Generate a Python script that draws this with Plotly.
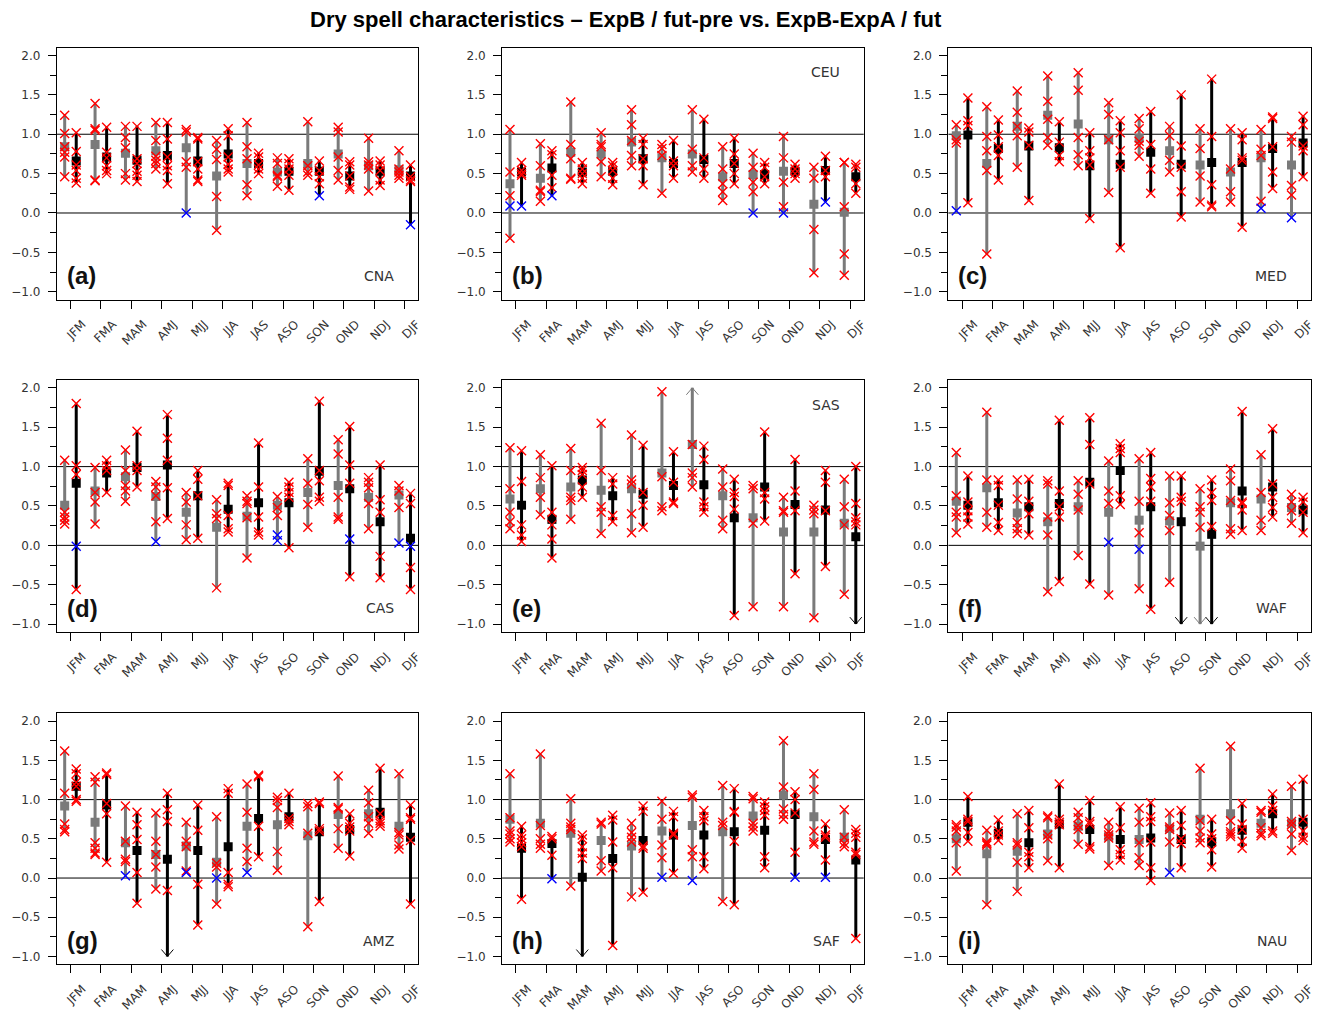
import plotly.graph_objects as go

MONTHS = ["JFM", "FMA", "MAM", "AMJ", "MJJ", "JJA", "JAS", "ASO", "SON", "OND", "NDJ", "DJF"]

# ---------------- (a) CNA ----------------
CNA_pre_mean = [0.84, 0.87, 0.76, 0.79, 0.83, 0.47, 0.63, 0.52, 0.63, 0.75, 0.60, 0.55]
CNA_pre_members = [[1.24, 1.01, 0.84, 0.77, 0.71, 0.46], [1.39, 1.07, 1.05, 0.42, 0.41],
                   [1.10, 0.96, 0.83, 0.50, 0.42], [1.15, 0.92, 0.72, 0.67, 0.63, 0.56],
                   [1.06, 1.03, 0.65, 0.58], [0.92, 0.81, 0.68, 0.21, -0.22],
                   [1.15, 0.84, 0.69, 0.36, 0.22], [0.70, 0.63, 0.48, 0.46, 0.34],
                   [1.16, 0.60, 0.52, 0.48], [1.09, 1.03, 0.71, 0.54, 0.42],
                   [0.95, 0.65, 0.61, 0.56, 0.28], [0.79, 0.56, 0.52, 0.48, 0.44]]
CNA_pre_blue = [[], [], [], [], [0.0], [], [], [], [], [], [], []]
CNA_diff_mean = [0.66, 0.71, 0.67, 0.73, 0.66, 0.75, 0.63, 0.53, 0.53, 0.47, 0.53, 0.47]
CNA_diff_members = [[1.02, 0.78, 0.61, 0.54, 0.44, 0.38], [1.09, 0.77, 0.70, 0.60, 0.54, 0.50],
                    [1.10, 0.69, 0.63, 0.53, 0.48, 0.40], [1.15, 0.94, 0.71, 0.60, 0.54, 0.37],
                    [0.96, 0.94, 0.65, 0.56, 0.42, 0.40], [1.07, 0.98, 0.71, 0.62, 0.56, 0.52],
                    [0.76, 0.71, 0.61, 0.56, 0.50], [0.69, 0.63, 0.56, 0.48, 0.29],
                    [0.66, 0.54, 0.46, 0.37], [0.65, 0.61, 0.47, 0.33, 0.30],
                    [0.66, 0.61, 0.54, 0.42, 0.35], [0.61, 0.46, 0.42, 0.40]]
CNA_diff_blue = [[], [], [], [], [], [], [], [], [0.22], [], [], [-0.15]]

# ---------------- (b) CEU ----------------
CEU_pre_mean = [0.37, 0.44, 0.77, 0.75, 0.90, 0.70, 0.75, 0.46, 0.49, 0.53, 0.11, 0.01]
CEU_pre_members = [[1.06, 0.52, 0.22, -0.32], [0.88, 0.60, 0.29, 0.27, 0.15],
                   [1.41, 0.87, 0.69, 0.44, 0.43], [1.02, 0.87, 0.84, 0.65, 0.46],
                   [1.31, 1.12, 0.92, 0.73, 0.60], [0.87, 0.82, 0.73, 0.25],
                   [1.31, 0.81, 0.60, 0.52], [0.84, 0.56, 0.37, 0.27, 0.16],
                   [0.76, 0.58, 0.39, 0.27], [0.97, 0.70, 0.39, 0.08],
                   [0.58, 0.44, -0.21, -0.76], [0.64, 0.64, 0.08, -0.52, -0.79]]
CEU_pre_blue = [[0.09], [], [], [], [], [], [], [], [0.0], [0.0], [], []]
CEU_diff_mean = [0.52, 0.57, 0.52, 0.53, 0.69, 0.63, 0.68, 0.63, 0.49, 0.53, 0.54, 0.46]
CEU_diff_members = [[0.64, 0.54, 0.50, 0.48], [0.79, 0.74, 0.48, 0.32],
                    [0.64, 0.56, 0.50, 0.44, 0.37], [0.64, 0.60, 0.54, 0.44, 0.36],
                    [0.95, 0.87, 0.69, 0.60, 0.36], [0.92, 0.66, 0.60, 0.44],
                    [1.19, 0.70, 0.56, 0.44], [0.95, 0.75, 0.63, 0.50, 0.37],
                    [0.64, 0.58, 0.46, 0.37], [0.62, 0.56, 0.50, 0.44],
                    [0.72, 0.54, 0.46], [0.62, 0.58, 0.37, 0.25]]
CEU_diff_blue = [[0.09], [0.22], [], [], [], [], [], [], [], [], [0.14], []]

# ---------------- (c) MED ----------------
MED_pre_mean = [0.98, 0.63, 1.10, 1.24, 1.13, 0.93, 0.95, 0.79, 0.61, 0.52, 0.70, 0.61]
MED_pre_members = [[1.12, 0.93, 0.89], [1.35, 0.97, 0.79, 0.54, -0.52],
                   [1.55, 1.28, 1.10, 0.98, 0.58], [1.74, 1.42, 1.19, 0.96, 0.86],
                   [1.78, 1.56, 0.96, 0.74, 0.60], [1.40, 1.25, 0.93, 0.26],
                   [1.20, 1.07, 0.91, 0.86, 0.72], [1.10, 0.98, 0.67, 0.52],
                   [1.07, 0.82, 0.47, 0.14], [1.07, 0.56, 0.27, 0.14],
                   [1.06, 0.81, 0.73, 0.15], [0.97, 0.90, 0.35, 0.23]]
MED_pre_blue = [[0.03], [], [], [], [], [], [], [], [], [], [0.06], [-0.06]]
MED_diff_mean = [0.99, 0.82, 0.85, 0.83, 0.60, 0.62, 0.77, 0.62, 0.64, 0.64, 0.82, 0.89]
MED_diff_members = [[1.46, 1.17, 1.11, 0.13], [1.18, 0.99, 0.84, 0.73, 0.42],
                    [1.08, 1.03, 0.86, 0.16], [1.16, 0.90, 0.73, 0.65],
                    [1.02, 0.79, 0.70, 0.61, -0.07], [1.17, 1.02, 0.79, 0.58, -0.44],
                    [1.29, 0.87, 0.56, 0.25], [1.50, 0.85, 0.58, 0.27, -0.05],
                    [1.70, 0.97, 0.36, 0.10, 0.08], [1.02, 0.93, 0.70, 0.67, -0.18],
                    [1.22, 1.20, 0.84, 0.52, 0.31], [1.23, 1.12, 0.85, 0.79, 0.46]]
MED_diff_blue = [[] for _ in range(12)]

# ---------------- (d) CAS ----------------
CAS_pre_mean = [0.51, 0.69, 0.87, 0.62, 0.42, 0.23, 0.37, 0.51, 0.67, 0.76, 0.61, 0.64]
CAS_pre_members = [[1.08, 0.42, 0.36, 0.32, 0.27], [0.99, 0.67, 0.55, 0.27],
                   [1.21, 0.95, 0.76, 0.69, 0.56], [0.81, 0.74, 0.63, 0.30],
                   [0.67, 0.55, 0.26, 0.07], [0.58, 0.40, 0.34, -0.54],
                   [0.63, 0.56, 0.53, 0.35, -0.16], [0.62, 0.48, 0.38],
                   [1.10, 0.79, 0.52, 0.23], [1.34, 1.16, 0.61, 0.36, 0.33],
                   [0.86, 0.80, 0.73, 0.53, 0.21], [0.76, 0.69, 0.48]]
CAS_pre_blue = [[], [], [], [0.05], [], [], [], [0.13, 0.06], [], [], [], [0.03]]
CAS_diff_mean = [0.79, 0.92, 0.99, 1.02, 0.63, 0.46, 0.54, 0.54, 0.94, 0.72, 0.30, 0.09]
CAS_diff_members = [[1.80, 1.01, 0.90, -0.56], [1.08, 1.01, 0.95, 0.67],
                    [1.45, 1.01, 0.95, 0.74], [1.66, 1.36, 1.08, 0.73, 0.34],
                    [0.95, 0.84, 0.63, 0.09], [0.79, 0.76, 0.38, 0.21, 0.17],
                    [1.30, 0.74, 0.36, 0.17, 0.13], [0.80, 0.74, 0.67, 0.61, -0.03],
                    [1.83, 0.95, 0.82, 0.61, 0.56], [1.51, 1.02, 0.79, -0.40],
                    [1.02, 0.58, 0.42, -0.14, -0.41], [0.66, 0.53, -0.28, -0.56]]
CAS_diff_blue = [[-0.01], [], [], [], [], [], [], [], [], [0.08], [], [-0.01]]

# ---------------- (e) SAS ----------------
SAS_pre_mean = [0.59, 0.72, 0.74, 0.70, 0.72, 0.92, 1.28, 0.63, 0.35, 0.17, 0.17, 0.28]
SAS_pre_members = [[1.24, 0.72, 0.42, 0.30, 0.21], [1.15, 0.86, 0.61, 0.39],
                   [1.23, 0.95, 0.61, 0.57, 0.33], [1.55, 0.95, 0.49, 0.42, 0.15],
                   [1.40, 0.83, 0.78, 0.40, 0.16], [1.95, 0.87, 0.49, 0.44],
                   [2.30, 1.28, 0.92, 0.86, 0.74], [0.97, 0.74, 0.32, 0.21],
                   [0.76, 0.72, 0.28, -0.78], [0.61, 0.44, 0.42, -0.78],
                   [0.51, 0.45, 0.40, -0.92], [0.84, 0.49, 0.26, -0.62]]
SAS_pre_blue = [[] for _ in range(12)]
SAS_diff_mean = [0.51, 0.33, 0.83, 0.63, 0.65, 0.76, 0.77, 0.35, 0.74, 0.52, 0.45, 0.11]
SAS_diff_members = [[1.20, 0.81, 0.26, 0.13, 0.05], [1.01, 0.42, 0.26, 0.08, -0.16],
                    [0.99, 0.95, 0.90, 0.74, 0.61], [0.86, 0.78, 0.38, 0.30],
                    [1.27, 0.67, 0.51, 0.23], [1.19, 0.80, 0.55, 0.53],
                    [1.26, 1.09, 0.55, 0.49, 0.42], [0.84, 0.67, 0.62, 0.46, -0.89],
                    [1.44, 0.67, 0.59, 0.31], [1.09, 0.69, 0.44, -0.36],
                    [0.95, 0.80, 0.44, -0.27], [1.00, 0.53, 0.35, 0.30, 0.26, -1.35]]
SAS_diff_blue = [[] for _ in range(12)]

# ---------------- (f) WAF ----------------
WAF_pre_mean = [0.56, 0.73, 0.41, 0.30, 0.49, 0.42, 0.32, 0.31, -0.01, 0.54, 0.59, 0.48]
WAF_pre_members = [[1.18, 0.63, 0.42, 0.36, 0.16], [1.69, 0.83, 0.42, 0.23],
                   [0.83, 0.59, 0.29, 0.21, 0.15], [0.82, 0.78, 0.36, 0.13, -0.59],
                   [0.82, 0.65, 0.45, -0.13], [1.07, 0.69, 0.53, -0.63],
                   [1.10, 0.56, 0.16, -0.55], [0.88, 0.54, 0.38, 0.19, -0.47],
                   [0.72, 0.49, 0.42, 0.23, -1.30], [0.97, 0.82, 0.57, 0.21, 0.14],
                   [1.15, 0.67, 0.32, 0.19], [0.65, 0.55, 0.44, 0.28]]
WAF_pre_blue = [[], [], [], [], [], [0.04], [-0.05], [], [], [], [], []]
WAF_diff_mean = [0.51, 0.54, 0.49, 0.53, 0.80, 0.95, 0.49, 0.30, 0.14, 0.69, 0.74, 0.45]
WAF_diff_members = [[0.88, 0.55, 0.44, 0.36, 0.27], [0.83, 0.76, 0.51, 0.29, 0.19],
                    [0.84, 0.56, 0.40, 0.13], [1.59, 0.69, 0.49, 0.36, -0.46],
                    [1.62, 1.28, 0.78, -0.49], [1.29, 1.23, 1.18, 0.63, 0.52],
                    [1.18, 0.85, 0.74, 0.56, -0.81], [0.88, 0.61, 0.56, -1.30],
                    [0.83, 0.67, 0.57, 0.24, -1.30], [1.70, 0.55, 0.53, 0.45, 0.19],
                    [1.48, 0.78, 0.61, 0.48, 0.36], [0.61, 0.55, 0.42, 0.16]]
WAF_diff_blue = [[] for _ in range(12)]

# ---------------- (g) AMZ ----------------
AMZ_pre_mean = [0.92, 0.71, 0.45, 0.30, 0.41, 0.20, 0.66, 0.68, 0.54, 0.81, 0.82, 0.66]
AMZ_pre_members = [[1.62, 1.08, 0.69, 0.62, 0.59], [1.29, 1.22, 0.45, 0.38, 0.32, 0.30],
                   [0.92, 0.47, 0.24, 0.21], [0.83, 0.47, 0.30, 0.14, -0.14],
                   [0.71, 0.47, 0.40, 0.09], [0.78, 0.19, 0.14, -0.33],
                   [1.20, 0.84, 0.38, 0.21], [1.03, 0.99, 0.90, 0.34, 0.10],
                   [0.95, 0.91, 0.57, -0.62], [1.30, 0.90, 0.88, 0.63, 0.38],
                   [1.12, 0.96, 0.78, 0.70, 0.57], [1.33, 0.58, 0.55, 0.42, 0.37]]
AMZ_pre_blue = [[], [], [0.03], [], [0.07], [0.0], [0.07], [], [], [], [], []]
AMZ_diff_mean = [1.17, 0.93, 0.35, 0.24, 0.35, 0.40, 0.76, 0.78, 0.59, 0.62, 0.84, 0.52]
AMZ_diff_members = [[1.39, 1.33, 1.22, 1.17, 1.00, 0.98], [1.34, 1.32, 0.95, 0.82, 0.20],
                    [0.84, 0.68, 0.49, 0.07, -0.32], [1.08, 0.87, 0.72, -0.16, -1.30],
                    [0.93, 0.61, -0.08, -0.60], [1.14, 1.08, 0.07, -0.08, -0.11],
                    [1.31, 1.29, 0.66, 0.27], [1.08, 0.76, 0.72, 0.68],
                    [0.97, 0.95, 0.63, 0.60, -0.30], [0.82, 0.70, 0.65, 0.60, 0.28],
                    [1.40, 0.82, 0.73, 0.70, 0.66], [0.93, 0.77, 0.75, 0.48, -0.33]]
AMZ_diff_blue = [[] for _ in range(12)]

# ---------------- (h) SAF ----------------
SAF_pre_mean = [0.75, 0.70, 0.57, 0.48, 0.41, 0.60, 0.67, 0.59, 0.79, 1.06, 0.78, 0.52]
SAF_pre_members = [[1.33, 0.77, 0.60, 0.56, 0.50, 0.46], [1.58, 0.67, 0.50, 0.43, 0.38],
                   [1.01, 0.70, 0.65, 0.62, -0.10], [0.71, 0.69, 0.22, 0.09],
                   [0.70, 0.58, 0.52, 0.46, -0.24], [0.98, 0.75, 0.42, 0.26],
                   [1.06, 1.03, 0.36, 0.27], [1.18, 0.71, 0.67, -0.30],
                   [1.04, 1.01, 0.70, 0.65, 0.60], [1.75, 1.16, 0.88, 0.81, 0.75],
                   [1.33, 1.13, 0.60, 0.46, 0.43], [0.87, 0.52, 0.44, 0.40]]
SAF_pre_blue = [[], [], [], [], [], [0.01], [-0.03], [], [], [], [], []]
SAF_diff_mean = [0.38, 0.44, 0.01, 0.25, 0.48, 0.55, 0.55, 0.59, 0.61, 0.81, 0.49, 0.23]
SAF_diff_members = [[0.66, 0.55, 0.50, 0.45, 0.40, -0.27], [0.53, 0.50, 0.29],
                    [0.55, 0.50, 0.40, 0.32, 0.25, -1.30], [0.80, 0.74, 0.46, 0.13, -0.86],
                    [0.92, 0.85, 0.41, 0.38, -0.18], [0.85, 0.78, 0.57, 0.55, 0.06],
                    [0.86, 0.78, 0.73, 0.27, 0.12], [1.14, 0.85, 0.84, 0.47, -0.34],
                    [0.97, 0.91, 0.86, 0.80, 0.27, 0.13], [1.10, 1.00, 0.83, 0.33],
                    [0.69, 0.55, 0.52, 0.23], [0.62, 0.57, 0.52, 0.33, 0.30, -0.77]]
SAF_diff_blue = [[], [-0.01], [], [], [], [], [], [], [], [0.01], [0.01], []]

# ---------------- (i) NAU ----------------
NAU_pre_mean = [0.50, 0.31, 0.34, 0.56, 0.66, 0.53, 0.49, 0.63, 0.75, 0.82, 0.70, 0.70]
NAU_pre_members = [[0.68, 0.65, 0.60, 0.45, 0.09], [0.61, 0.46, 0.44, 0.42, -0.34],
                   [0.82, 0.45, 0.42, 0.20, -0.17], [0.79, 0.77, 0.55, 0.50, 0.22],
                   [0.84, 0.77, 0.67, 0.62, 0.43], [0.71, 0.59, 0.55, 0.51, 0.16],
                   [0.89, 0.71, 0.45, 0.26, 0.16], [0.83, 0.65, 0.62, 0.46],
                   [1.40, 0.73, 0.60, 0.51, 0.45], [1.68, 0.73, 0.59, 0.56, 0.53],
                   [0.86, 0.84, 0.64, 0.57, 0.54], [1.17, 0.72, 0.68, 0.56, 0.35]]
NAU_pre_blue = [[], [], [], [], [], [], [], [0.07], [], [], [], []]
NAU_diff_mean = [0.71, 0.57, 0.45, 0.69, 0.62, 0.49, 0.51, 0.49, 0.46, 0.61, 0.82, 0.71]
NAU_diff_members = [[1.04, 0.75, 0.72, 0.58, 0.47], [0.74, 0.60, 0.55, 0.48],
                    [0.86, 0.64, 0.33, 0.27, 0.13], [1.20, 0.75, 0.71, 0.68, 0.13],
                    [0.99, 0.72, 0.69, 0.40, 0.37], [0.91, 0.64, 0.36, 0.30, 0.23],
                    [0.96, 0.78, 0.72, 0.46, 0.13, -0.03], [0.86, 0.67, 0.50, 0.44, 0.13],
                    [0.75, 0.56, 0.50, 0.36, 0.14], [0.95, 0.69, 0.62, 0.47, 0.38],
                    [1.07, 0.92, 0.86, 0.60, 0.57], [1.26, 0.75, 0.60, 0.52, 0.48]]
NAU_diff_blue = [[] for _ in range(12)]

PANELS = [
    ("(a)", "CNA", "bottom", CNA_pre_mean, CNA_pre_members, CNA_pre_blue, CNA_diff_mean, CNA_diff_members, CNA_diff_blue),
    ("(b)", "CEU", "top", CEU_pre_mean, CEU_pre_members, CEU_pre_blue, CEU_diff_mean, CEU_diff_members, CEU_diff_blue),
    ("(c)", "MED", "bottom", MED_pre_mean, MED_pre_members, MED_pre_blue, MED_diff_mean, MED_diff_members, MED_diff_blue),
    ("(d)", "CAS", "bottom", CAS_pre_mean, CAS_pre_members, CAS_pre_blue, CAS_diff_mean, CAS_diff_members, CAS_diff_blue),
    ("(e)", "SAS", "top", SAS_pre_mean, SAS_pre_members, SAS_pre_blue, SAS_diff_mean, SAS_diff_members, SAS_diff_blue),
    ("(f)", "WAF", "bottom", WAF_pre_mean, WAF_pre_members, WAF_pre_blue, WAF_diff_mean, WAF_diff_members, WAF_diff_blue),
    ("(g)", "AMZ", "bottom", AMZ_pre_mean, AMZ_pre_members, AMZ_pre_blue, AMZ_diff_mean, AMZ_diff_members, AMZ_diff_blue),
    ("(h)", "SAF", "bottom", SAF_pre_mean, SAF_pre_members, SAF_pre_blue, SAF_diff_mean, SAF_diff_members, SAF_diff_blue),
    ("(i)", "NAU", "bottom", NAU_pre_mean, NAU_pre_members, NAU_pre_blue, NAU_diff_mean, NAU_diff_members, NAU_diff_blue),
]

# ---------------- layout geometry ----------------
W, H = 1319, 1013
COL_PX = [(57, 420), (504, 867), (952, 1316)]
ROW_PX = [(48, 302), (383, 637), (719, 972)]
Y_LO, Y_HI = -1.0, 2.0           # clipping limits (arrows beyond)
XR = [0.55, 12.45]
YR = [-1.1, 2.1]
OFF = 0.19
GRAY = "#7a7a7a"
AX_FONT = dict(family="DejaVu Sans", size=12, color="#333333")

fig = go.Figure()
layout = dict(
    width=W, height=H, margin=dict(l=0, r=0, t=0, b=0),
    paper_bgcolor="white", plot_bgcolor="white", showlegend=False,
    annotations=[], shapes=[],
)

for i, (plab, region, pos, pm, pmem, pblue, dm, dmem, dblue) in enumerate(PANELS):
    r, c = divmod(i, 3)
    k = "" if i == 0 else str(i + 1)
    xa, ya = "x" + k, "y" + k
    x0p, x1p = COL_PX[c]
    y0p, y1p = ROW_PX[r]
    layout["xaxis" + k] = dict(
        domain=[x0p / W, x1p / W], anchor=ya, range=XR,
        tickmode="array", tickvals=list(range(1, 13)), ticktext=MONTHS,
        tickangle=-45, ticks="outside", ticklen=8, tickcolor="black",
        ticklabelshift=12, ticklabelstandoff=4,
        showline=True, mirror=True, linecolor="black", linewidth=1,
        showgrid=False, zeroline=False, tickfont=AX_FONT,
    )
    layout["yaxis" + k] = dict(
        domain=[1 - y1p / H, 1 - y0p / H], anchor=xa, range=YR,
        tickmode="array", tickvals=[-1, -0.5, 0, 0.5, 1, 1.5, 2], tickformat=".1f",
        ticks="outside", ticklen=8, tickcolor="black", ticklabelstandoff=5,
        minor=dict(tickvals=[-0.75, -0.25, 0.25, 0.75, 1.25, 1.75], ticks="outside",
                   ticklen=6, tickcolor="black"),
        showline=True, mirror=True, linecolor="black", linewidth=1,
        showgrid=False, zeroline=False, tickfont=AX_FONT,
    )
    for yv in (0.0, 1.0):
        layout["shapes"].append(dict(type="line", xref=xa + " domain", yref=ya,
                                     x0=0, x1=1, y0=yv, y1=yv,
                                     line=dict(color="black", width=1), layer="below"))

    ypx_per_unit = (y1p - y0p) / (YR[1] - YR[0])
    xpx_per_unit = (x1p - x0p) / (XR[1] - XR[0])
    adx = 6 / xpx_per_unit
    ady = 7 / ypx_per_unit

    series = [(-OFF, pm, pmem, pblue, GRAY), (OFF, dm, dmem, dblue, "black")]
    red_x, red_y, blue_x, blue_y = [], [], [], []
    for off, means, mems, blues, col in series:
        lx, ly, ax_, ay_ = [], [], [], []
        sx, sy = [], []
        for m in range(12):
            xc = m + 1 + off
            vals = list(mems[m]) + list(blues[m])
            lo, hi = min(vals), max(vals)
            lo_c, hi_c = max(lo, Y_LO), min(hi, Y_HI)
            lx += [xc, xc, None]
            ly += [lo_c, hi_c, None]
            if lo < Y_LO:
                ax_ += [xc - adx, xc, xc + adx, None]
                ay_ += [Y_LO + ady, Y_LO, Y_LO + ady, None]
            if hi > Y_HI:
                ax_ += [xc - adx, xc, xc + adx, None]
                ay_ += [Y_HI - ady, Y_HI, Y_HI - ady, None]
            sx.append(xc)
            sy.append(means[m])
            for v in mems[m]:
                if Y_LO <= v <= Y_HI:
                    red_x.append(xc); red_y.append(v)
            for v in blues[m]:
                blue_x.append(xc); blue_y.append(v)
        fig.add_trace(go.Scatter(x=lx, y=ly, mode="lines", xaxis=xa, yaxis=ya,
                                 line=dict(color=col, width=3), hoverinfo="skip"))
        if ax_:
            fig.add_trace(go.Scatter(x=ax_, y=ay_, mode="lines", xaxis=xa, yaxis=ya,
                                     line=dict(color=col, width=1), hoverinfo="skip"))
        fig.add_trace(go.Scatter(x=sx, y=sy, mode="markers", xaxis=xa, yaxis=ya,
                                 marker=dict(symbol="square", size=9, color=col,
                                             line=dict(width=0))))
    fig.add_trace(go.Scatter(x=red_x, y=red_y, mode="markers", xaxis=xa, yaxis=ya,
                             marker=dict(symbol="x-thin-open", size=9, color="#ff0000",
                                         line=dict(color="#ff0000", width=1.4))))
    if blue_x:
        fig.add_trace(go.Scatter(x=blue_x, y=blue_y, mode="markers", xaxis=xa, yaxis=ya,
                                 marker=dict(symbol="x-thin-open", size=9, color="#0000ff",
                                             line=dict(color="#0000ff", width=1.4))))

    # panel letter
    layout["annotations"].append(dict(
        text="<b>" + plab + "</b>", xref=xa + " domain", yref=ya + " domain",
        x=8 / (x1p - x0p), y=24 / (y1p - y0p), xanchor="left", yanchor="middle",
        showarrow=False, font=dict(family="Liberation Sans", size=24, color="#111111")))
    # region name
    ry = 1 - 25 / (y1p - y0p) if pos == "top" else 24 / (y1p - y0p)
    layout["annotations"].append(dict(
        text=region, xref=xa + " domain", yref=ya + " domain",
        x=1 - 22 / (x1p - x0p), y=ry, xanchor="right", yanchor="middle",
        showarrow=False, font=dict(family="DejaVu Sans", size=14, color="#333333")))

layout["annotations"].append(dict(
    text="<b>Dry spell characteristics \u2013 ExpB / fut-pre vs. ExpB-ExpA / fut</b>",
    xref="paper", yref="paper", x=628 / W, y=1 - 20 / H, xanchor="center", yanchor="middle",
    showarrow=False, font=dict(family="Liberation Sans", size=22, color="black")))

fig.update_layout(**layout)
fig.write_html("out.html", config={"displayModeBar": False},
               post_script="document.body.style.margin='0';document.body.style.overflow='hidden';")
